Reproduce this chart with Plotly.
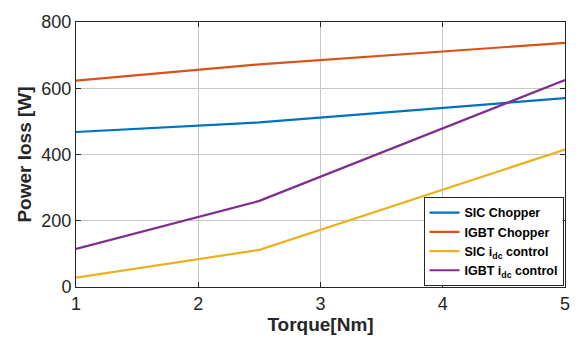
import plotly.graph_objects as go

torque = [1, 2.5, 5]
sic_chopper = [468, 497, 570]
igbt_chopper = [623, 672, 737]
sic_idc = [28, 112, 415]
igbt_idc = [115, 260, 625]

names = ["SIC Chopper", "IGBT Chopper", "SIC i<sub>dc</sub> control", "IGBT i<sub>dc</sub> control"]
series = [sic_chopper, igbt_chopper, sic_idc, igbt_idc]
colors = ["#0072BD", "#D95319", "#EDB120", "#7E2F8E"]

x_ticks = [1, 2, 3, 4, 5]
y_ticks = [0, 200, 400, 600, 800]

fig = go.Figure()
for n, s, c in zip(names, series, colors):
    fig.add_trace(go.Scatter(x=torque, y=s, mode="lines", name=n,
                             line=dict(color=c, width=2.2)))

font_family = "Liberation Sans, Arial, Helvetica, sans-serif"
fig.update_layout(
    width=582, height=343,
    margin=dict(l=76, r=15, t=15, b=56),
    paper_bgcolor="white", plot_bgcolor="white",
    font=dict(family=font_family, color="#262626", size=18),
    showlegend=True,
    legend=dict(x=0.997, y=0.34, xanchor="right", yanchor="top",
                bgcolor="white", bordercolor="#262626", borderwidth=1,
                font=dict(size=12.5, color="#000000", family=font_family, weight="bold"),
                itemwidth=30, tracegroupgap=0),
)
fig.update_xaxes(range=[1, 5], tickvals=x_ticks, showgrid=True, gridcolor="#c8c8c8",
                 gridwidth=1, showline=True, linecolor="#262626", linewidth=1,
                 mirror="ticks", ticks="inside", ticklen=5, tickcolor="#262626",
                 zeroline=False, tickfont=dict(size=18),
                 title=dict(text="<b>Torque[Nm]</b>", font=dict(size=19, color="#262626"), standoff=4))
fig.update_yaxes(range=[0, 800], tickvals=y_ticks, showgrid=True, gridcolor="#c8c8c8",
                 gridwidth=1, showline=True, linecolor="#262626", linewidth=1,
                 mirror="ticks", ticks="inside", ticklen=5, tickcolor="#262626",
                 zeroline=False, tickfont=dict(size=18),
                 title=dict(text="<b>Power loss [W]</b>", font=dict(size=19, color="#262626"), standoff=4))

fig.write_html("out.html")
